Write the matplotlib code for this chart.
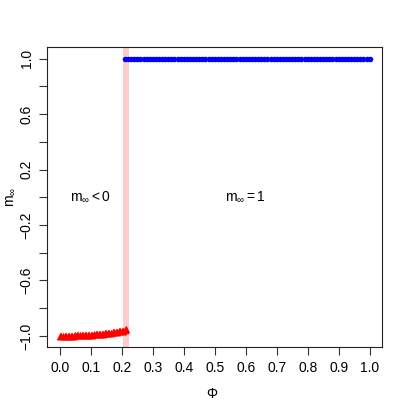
import numpy as np
import matplotlib
matplotlib.use("Agg")
import matplotlib.pyplot as plt

plt.rcParams['font.family'] = ['Liberation Sans', 'DejaVu Sans']
plt.rcParams['mathtext.fontset'] = 'custom'
plt.rcParams['mathtext.rm'] = 'Liberation Sans'
plt.rcParams['mathtext.it'] = 'Liberation Sans'

# negative branch (red triangles), phi step 0.005
phi_neg = [0.000, 0.005, 0.010, 0.015, 0.020, 0.025, 0.030, 0.035, 0.040, 0.045,
           0.050, 0.055, 0.060, 0.065, 0.070, 0.075, 0.080, 0.085, 0.090, 0.095,
           0.100, 0.105, 0.110, 0.115, 0.120, 0.125, 0.130, 0.135, 0.140, 0.145,
           0.150, 0.155, 0.160, 0.165, 0.170, 0.175, 0.180, 0.185, 0.190, 0.195,
           0.200, 0.205, 0.210, 0.213]
m_neg = [-1.000, -1.000, -1.000, -0.999, -0.999, -0.999, -0.999, -0.998, -0.998, -0.998,
         -0.997, -0.997, -0.996, -0.996, -0.995, -0.995, -0.994, -0.993, -0.993, -0.992,
         -0.991, -0.990, -0.989, -0.988, -0.987, -0.986, -0.985, -0.984, -0.983, -0.981,
         -0.980, -0.979, -0.977, -0.976, -0.974, -0.972, -0.971, -0.969, -0.967, -0.965,
         -0.963, -0.961, -0.958, -0.953]

# positive branch (blue dots), phi step 0.01
phi_pos = [round(0.21 + 0.01 * i, 2) for i in range(80)]
m_pos = [1.0] * len(phi_pos)

band = (0.205, 0.224)
xticks = [0.0, 0.1, 0.2, 0.3, 0.4, 0.5, 0.6, 0.7, 0.8, 0.9, 1.0]
yticks = [-1.0, -0.8, -0.6, -0.4, -0.2, 0.0, 0.2, 0.4, 0.6, 0.8, 1.0]
ylabels = ['-1.0', '', '-0.6', '', '-0.2', '', '0.2', '', '0.6', '', '1.0']
ylabels = [s.replace('-', '\u2212') for s in ylabels]

fig = plt.figure(figsize=(4.07, 4.07), dpi=100)
ax = fig.add_axes([0.1167, 0.1474, 0.8219, 0.7359])

ax.axvspan(band[0], band[1], color='#ffcccc', lw=0, zorder=0)
ax.scatter(phi_neg, m_neg, marker='^', s=30, color='red', lw=0, zorder=3)
ax.scatter(phi_pos, m_pos, marker='o', s=16, color='blue', lw=0, zorder=3)

ax.text(0.1, 0.0, r'$\mathregular{m_{\infty} < 0}$', ha='center', va='center', fontsize=10)
ax.text(0.6, 0.0, r'$\mathregular{m_{\infty} = 1}$', ha='center', va='center', fontsize=10)

ax.set_xlim(-0.04, 1.04)
ax.set_ylim(-1.08, 1.08)
ax.set_xticks(xticks)
ax.set_xticklabels([f'{v:.1f}' for v in xticks])
ax.set_yticks(yticks)
ax.set_yticklabels(ylabels, rotation=90, va='center')
ax.tick_params(direction='out', length=6, width=0.8, labelsize=10, pad=4, color='#333333')

ax.set_xlabel('\u03a6', fontsize=10)
ax.set_ylabel(r'$\mathregular{m_{\infty}}$', fontsize=10)
ax.xaxis.set_label_coords(0.49, -0.135)
ax.yaxis.set_label_coords(-0.09, 0.5)

for sp in ax.spines.values():
    sp.set_linewidth(0.8)
    sp.set_color('#222222')

fig.savefig('out.png', dpi=100)
